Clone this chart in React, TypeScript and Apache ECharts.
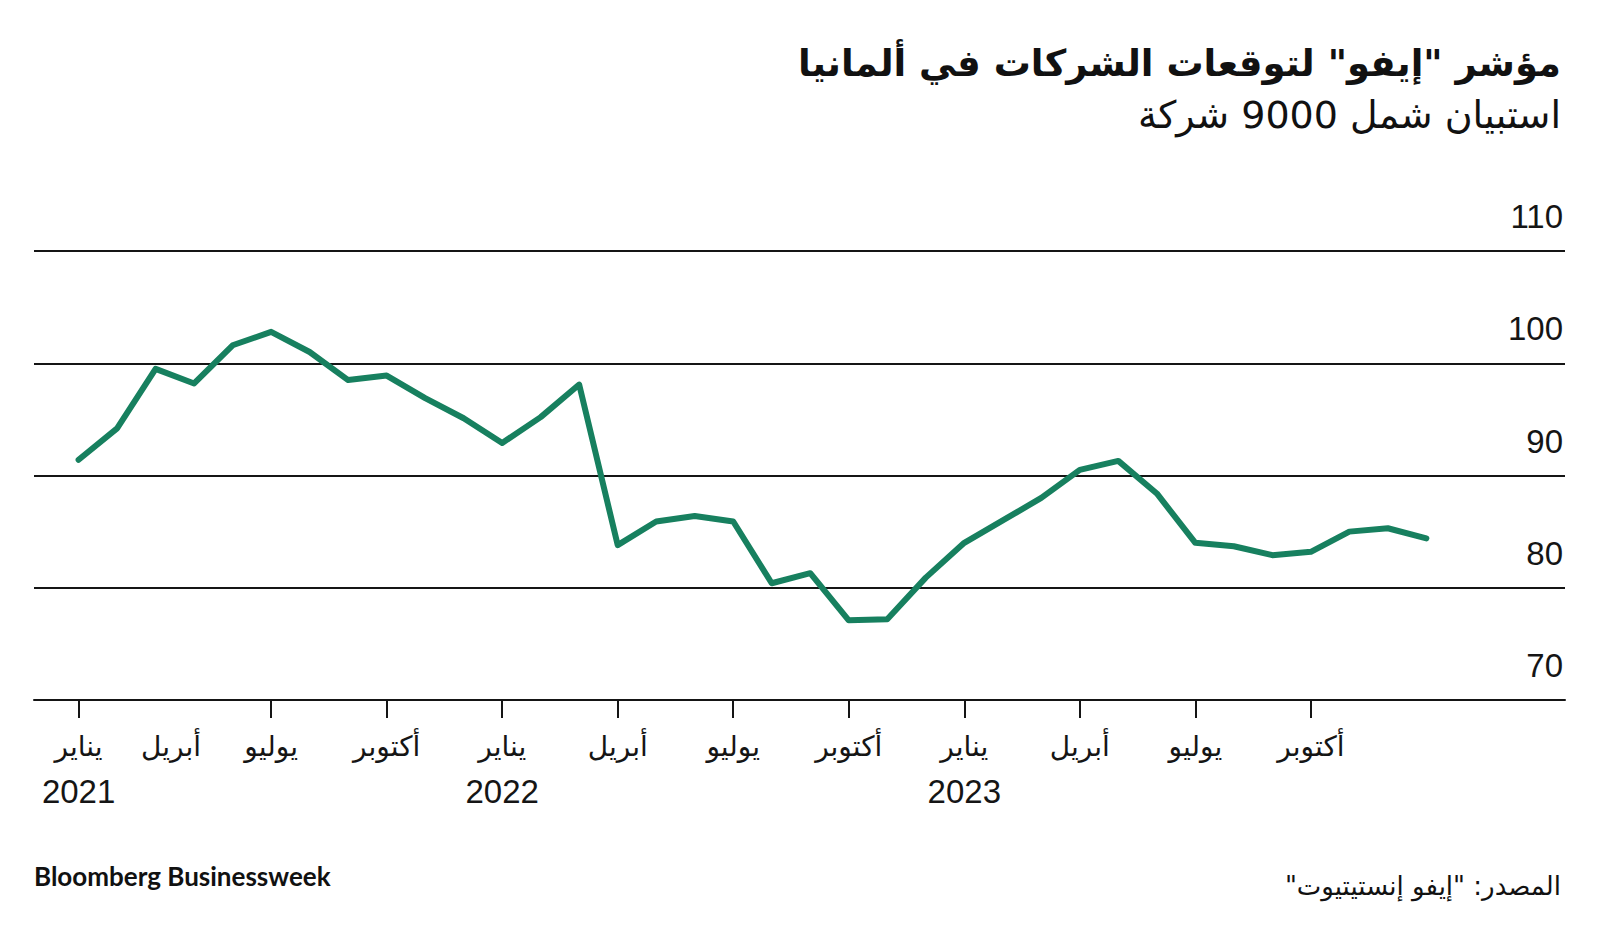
import React, { useEffect, useRef } from "react";
import * as echarts from "echarts";

// Monthly data, Jan 2021 – Dec 2023
const MONTHS = [
  "2021-01", "2021-02", "2021-03", "2021-04", "2021-05", "2021-06",
  "2021-07", "2021-08", "2021-09", "2021-10", "2021-11", "2021-12",
  "2022-01", "2022-02", "2022-03", "2022-04", "2022-05", "2022-06",
  "2022-07", "2022-08", "2022-09", "2022-10", "2022-11", "2022-12",
  "2023-01", "2023-02", "2023-03", "2023-04", "2023-05", "2023-06",
  "2023-07", "2023-08", "2023-09", "2023-10", "2023-11", "2023-12",
];
const EXPECTATIONS = [
  91.4, 94.2, 99.5, 98.2, 101.6, 102.8, 101.0, 98.5, 98.9, 96.9, 95.1, 92.9,
  95.2, 98.1, 83.8, 85.9, 86.4, 85.9, 80.4, 81.3, 77.1, 77.2, 80.9, 84.0,
  86.0, 88.0, 90.5, 91.3, 88.4, 84.0, 83.7, 82.9, 83.2, 85.0, 85.3, 84.4,
];

// x-axis ticks (month index on the axis) and labels
const TICK_POSITIONS = [0, 5, 8, 11, 14, 17, 20, 23, 26, 29, 32];
const LABEL_POSITIONS = [0, 2.4, 5, 8, 11, 14, 17, 20, 23, 26, 29, 32];
const LABEL_MONTHS = [
  "يناير", "أبريل", "يوليو", "أكتوبر",
  "يناير", "أبريل", "يوليو", "أكتوبر",
  "يناير", "أبريل", "يوليو", "أكتوبر",
];
const LABEL_YEARS = ["2021", "", "", "", "2022", "", "", "", "2023", "", "", ""];

const Y_MIN = 70;
const Y_MAX = 110;
const Y_STEP = 10;

const RLM = "\u200F";
const TITLE = 'مؤشر "إيفو" لتوقعات الشركات في ألمانيا';
const SUBTITLE = "استبيان شمل 9000 شركة";
const SOURCE = 'المصدر: "إيفو إنستيتيوت"';
const BRAND = "Bloomberg Businessweek";

const GREEN = "#17805f";
const INK = "#151515";

export default function App() {
  const ref = useRef<HTMLDivElement>(null);

  useEffect(() => {
    if (!ref.current) return;
    const chart = echarts.init(ref.current, undefined, { renderer: "svg" });
    const labelMap: Record<string, string> = {};
    LABEL_POSITIONS.forEach((p, i) => {
      labelMap[String(p)] = LABEL_YEARS[i]
        ? `{m|${LABEL_MONTHS[i]}}\n{y|${LABEL_YEARS[i]}}`
        : `{m|${LABEL_MONTHS[i]}}`;
    });

    chart.setOption({
      animation: false,
      backgroundColor: "#ffffff",
      grid: { left: 34, right: 35, top: 251, bottom: 227, containLabel: false },
      xAxis: {
        type: "value",
        min: -1.158,
        max: 38.6,
        splitLine: { show: false },
        axisLine: { show: true, lineStyle: { color: INK, width: 2 } },
        axisTick: {
          show: true,
          customValues: TICK_POSITIONS,
          length: 18,
          lineStyle: { color: INK, width: 2 },
        },
        axisLabel: {
          show: true,
          customValues: LABEL_POSITIONS,
          formatter: (v: number) => labelMap[String(v)] ?? "",
          margin: 24,
          color: INK,
          verticalAlign: "top",
          rich: {
            m: {
              fontSize: 28,
              lineHeight: 45,
              color: INK,
              fontFamily: "'Liberation Sans', 'DejaVu Sans', sans-serif",
            },
            y: {
              fontSize: 33,
              lineHeight: 45,
              color: INK,
              fontFamily: "'Liberation Sans', sans-serif",
            },
          },
        },
      },
      yAxis: {
        type: "value",
        position: "right",
        min: Y_MIN,
        max: Y_MAX,
        interval: Y_STEP,
        axisLine: { show: false },
        axisTick: { show: false },
        splitLine: { show: true, lineStyle: { color: INK, width: 2 } },
        axisLabel: {
          inside: true,
          margin: 2,
          fontSize: 33,
          lineHeight: 33,
          verticalAlign: "bottom",
          padding: [0, 0, 18, 0],
          color: INK,
          fontFamily: "'Liberation Sans', sans-serif",
        },
      },
      series: [
        {
          type: "line",
          data: EXPECTATIONS.map((v, i) => [i, v]),
          name: "ifo",
          showSymbol: false,
          lineStyle: { color: GREEN, width: 6, cap: "round", join: "round" },
          itemStyle: { color: GREEN },
        },
      ],
      graphic: [
        {
          type: "text",
          x: 1561,
          y: 63,
          style: {
            text: RLM + TITLE + RLM,
            align: "right",
            verticalAlign: "middle",
            fontSize: 37,
            fontWeight: "bold",
            fontFamily: "'DejaVu Sans', sans-serif",
            fill: "#111",
          },
        },
        {
          type: "text",
          x: 1561,
          y: 115,
          style: {
            text: RLM + SUBTITLE + RLM,
            align: "right",
            verticalAlign: "middle",
            fontSize: 38,
            fontFamily: "'DejaVu Sans', sans-serif",
            fill: "#111",
          },
        },
        {
          type: "text",
          x: 34,
          y: 876,
          style: {
            text: BRAND,
            align: "left",
            verticalAlign: "middle",
            fontSize: 26,
            fontWeight: "bold",
            fontFamily: "Lato, 'Open Sans', sans-serif",
            fill: "#111",
          },
        },
        {
          type: "text",
          x: 1561,
          y: 886,
          style: {
            text: RLM + SOURCE + RLM,
            align: "right",
            verticalAlign: "middle",
            fontSize: 26,
            fontFamily: "'DejaVu Sans', sans-serif",
            fill: "#111",
          },
        },
      ],
    });
    return () => chart.dispose();
  }, []);

  return (
    <div
      ref={ref}
      style={{ position: "fixed", left: 0, top: 0, width: 1600, height: 927, background: "#fff" }}
    />
  );
}
